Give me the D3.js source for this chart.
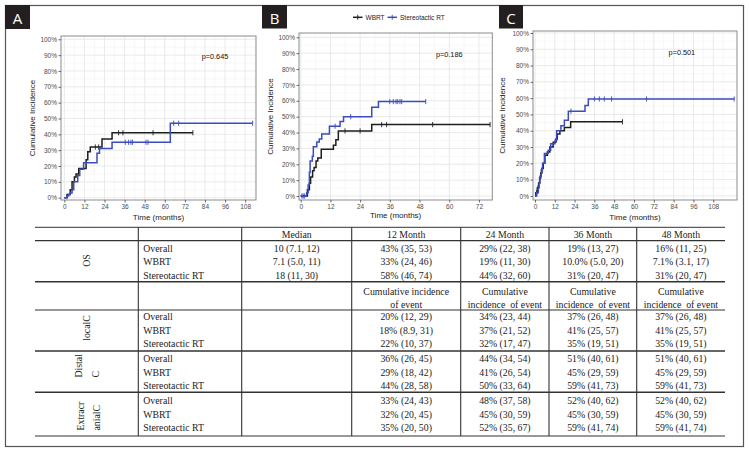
<!DOCTYPE html>
<html><head><meta charset="utf-8">
<script src="https://cdn.jsdelivr.net/npm/d3@7"></script>
<style>
html,body{margin:0;padding:0;background:#fff;}
svg{display:block;}
</style></head><body>
<svg id="chart" width="749" height="453"></svg>
<script>
// ---------------- DATA ----------------
const panelLabels = ["A", "B", "C"];
const pValues = ["p=0.645", "p=0.186", "p=0.501"];
const seriesNames = ["WBRT", "Stereotactic RT"];
const xTicksLong = [0, 12, 24, 36, 48, 60, 72, 84, 96, 108];
const xTicksShort = [0, 12, 24, 36, 48, 60, 72];
const yTicks = [0, 0.1, 0.2, 0.3, 0.4, 0.5, 0.6, 0.7, 0.8, 0.9, 1.0];

// Panel A (months, cumulative incidence)
const wbrtA = [[0,0],[1.6,0.02],[3.5,0.05],[4.6,0.10],[6,0.13],[7,0.15],[8.6,0.185],[13,0.24],[14,0.29],[15.5,0.32],[22.5,0.37],[28.5,0.41]];
const wbrtAEnd = 76.8;
const wbrtACensor = [18.5, 20.5, 32.4, 35, 53, 76.8];
const srtA = [[0,0],[1.5,0.01],[2.5,0.02],[3.5,0.03],[4.6,0.05],[5.6,0.10],[8,0.14],[9.2,0.18],[11.5,0.22],[19.5,0.28],[21,0.31],[28.5,0.35],[63.3,0.47]];
const srtAEnd = 112.5;
const srtACensor = [36.4, 38.4, 39.8, 40.8, 48.8, 50, 65.3, 68.3, 112.5];

// Panel B
const wbrtB = [[0,0],[2.7,0.04],[3.5,0.08],[4,0.12],[4.8,0.16],[5.4,0.18],[6.2,0.22],[6.9,0.24],[8.3,0.295],[13.2,0.32],[14.2,0.355],[15.2,0.41],[28.7,0.45]];
const wbrtBEnd = 76.5;
const wbrtBCensor = [17.9, 24, 32.7, 34.7, 53.3, 76.5];
const srtB = [[0,0],[2.4,0.02],[3,0.07],[3.5,0.15],[3.8,0.22],[4.7,0.25],[5.1,0.31],[6.5,0.34],[7.5,0.36],[8.5,0.39],[11.6,0.44],[15.9,0.47],[17.3,0.50],[28.7,0.56],[31.4,0.595]];
const srtBEnd = 50.5;
const srtBCensor = [0.5, 1, 1.5, 13.9, 20.2, 36, 37.4, 38.5, 39.2, 40.1, 40.8, 50.5];

// Panel C
const wbrtC = [[0,0],[0.5,0.02],[1.4,0.05],[2.2,0.08],[2.8,0.11],[3.5,0.14],[4.2,0.17],[5,0.20],[6,0.25],[7.5,0.27],[9,0.30],[11,0.33],[12.7,0.35],[13.5,0.38],[15.1,0.40],[17.8,0.42],[21.6,0.455]];
const wbrtCEnd = 53;
const wbrtCCensor = [1, 1.8, 53];
const srtC = [[0,0],[1,0.02],[2,0.05],[2.5,0.08],[3,0.12],[3.8,0.16],[4.6,0.20],[5.7,0.26],[8,0.28],[9.5,0.32],[12.1,0.34],[13.1,0.40],[15.7,0.43],[17.8,0.465],[20.2,0.52],[30.3,0.555],[32.3,0.595]];
const srtCEnd = 120.7;
const srtCCensor = [21.8, 36, 39, 42, 46.4, 67.6, 120.7];

// Table
const tableHeader = ["Median", "12 Month", "24 Month", "36 Month", "48 Month"];
const ciHeader = [["", ""], ["Cumulative incidence", "of event"], ["Cumulative", "incidence  of event"], ["Cumulative", "incidence  of event"], ["Cumulative", "incidence  of event"]];
const groupLabels = [["OS"], ["localC"], ["Distal", "C"], ["Extracr", "anialC"]];
const rowLabels = ["Overall", "WBRT", "Stereotactic RT"];
const osValues = [
  ["10 (7.1, 12)", "43% (35, 53)", "29% (22, 38)", "19% (13, 27)", "16% (11, 25)"],
  ["7.1 (5.0, 11)", "33% (24, 46)", "19% (11, 30)", "10.0% (5.0, 20)", "7.1% (3.1, 17)"],
  ["18 (11, 30)", "58% (46, 74)", "44% (32, 60)", "31% (20, 47)", "31% (20, 47)"]];
const localCValues = [
  ["", "20% (12, 29)", "34% (23, 44)", "37% (26, 48)", "37% (26, 48)"],
  ["", "18% (8.9, 31)", "37% (21, 52)", "41% (25, 57)", "41% (25, 57)"],
  ["", "22% (10, 37)", "32% (17, 47)", "35% (19, 51)", "35% (19, 51)"]];
const distalCValues = [
  ["", "36% (26, 45)", "44% (34, 54)", "51% (40, 61)", "51% (40, 61)"],
  ["", "29% (18, 42)", "41% (26, 54)", "45% (29, 59)", "45% (29, 59)"],
  ["", "44% (28, 58)", "50% (33, 64)", "59% (41, 73)", "59% (41, 73)"]];
const extraCValues = [
  ["", "33% (24, 43)", "48% (37, 58)", "52% (40, 62)", "52% (40, 62)"],
  ["", "32% (20, 45)", "45% (30, 59)", "45% (30, 59)", "45% (30, 59)"],
  ["", "35% (20, 50)", "52% (35, 67)", "59% (41, 74)", "59% (41, 74)"]];

// ---------------- DRAW ----------------
const BLACK = "#1e1e1e", BLUE = "#3b4cc0";
const SANS = "'Liberation Sans', Arial, sans-serif";
const SERIF = "'Liberation Serif', 'Times New Roman', serif";
const svg = d3.select("#chart");

svg.append("rect").attr("x", 5.5).attr("y", 5.5).attr("width", 738).attr("height", 441)
  .attr("fill", "none").attr("stroke", "#555").attr("stroke-width", 1.2);

const panels = [
  {label: panelLabels[0], p: pValues[0], pPos: [90, 0.89], box: [5, 5, 25, 24],
   left: 61, right: 256, top: 36, bottom: 200, xDom: [-2.0, 114.5], yDom: [-0.0145, 1.0208],
   xTicks: xTicksLong, yTitleX: 32, xTitleY: 217,
   series: [{steps: wbrtA, end: wbrtAEnd, censor: wbrtACensor, color: BLACK},
            {steps: srtA, end: srtAEnd, censor: srtACensor, color: BLUE}]},
  {label: panelLabels[1], p: pValues[1], pPos: [60, 0.89], box: [262, 5, 25, 23.5],
   left: 299, right: 492.3, top: 33, bottom: 200, xDom: [-0.69, 77.4], yDom: [-0.025, 1.027],
   xTicks: xTicksShort, yTitleX: 270, xTitleY: 215,
   series: [{steps: wbrtB, end: wbrtBEnd, censor: wbrtBCensor, color: BLACK},
            {steps: srtB, end: srtBEnd, censor: srtBCensor, color: BLUE}]},
  {label: panelLabels[2], p: pValues[2], pPos: [89, 0.88], box: [499, 5, 24, 23.5],
   left: 533, right: 737, top: 31, bottom: 200, xDom: [-1.21, 122.4], yDom: [-0.025, 1.012],
   xTicks: xTicksLong, yTitleX: 502, xTitleY: 217,
   series: [{steps: wbrtC, end: wbrtCEnd, censor: wbrtCCensor, color: BLACK},
            {steps: srtC, end: srtCEnd, censor: srtCCensor, color: BLUE}]}
];

function stepValue(steps, t) {
  let v = steps[0][1];
  for (const s of steps) { if (s[0] <= t) v = s[1]; }
  return v;
}

panels.forEach(P => {
  const g = svg.append("g");
  const x = d3.scaleLinear().domain(P.xDom).range([P.left, P.right]);
  const y = d3.scaleLinear().domain(P.yDom).range([P.bottom, P.top]);

  // label box
  g.append("rect").attr("x", P.box[0]).attr("y", P.box[1]).attr("width", P.box[2]).attr("height", P.box[3]).attr("fill", "#231f20");
  g.append("text").attr("x", P.box[0] + P.box[2] / 2).attr("y", P.box[1] + P.box[3] / 2 + 1)
    .attr("text-anchor", "middle").attr("dominant-baseline", "central")
    .attr("fill", "#fff").attr("font-family", "'Open Sans', sans-serif").attr("font-size", 15).text(P.label);

  // grid
  const xMinor = d3.range(6, P.xDom[1], 12);
  const yMinor = d3.range(0.05, 1.0, 0.1);
  const grid = g.append("g");
  grid.selectAll(".xm").data(xMinor).join("line")
    .attr("x1", d => x(d)).attr("x2", d => x(d)).attr("y1", P.top).attr("y2", P.bottom)
    .attr("stroke", "#f2f2f2").attr("stroke-width", 0.6);
  grid.selectAll(".ym").data(yMinor).join("line")
    .attr("x1", P.left).attr("x2", P.right).attr("y1", d => y(d)).attr("y2", d => y(d))
    .attr("stroke", "#f2f2f2").attr("stroke-width", 0.6);
  grid.selectAll(".xM").data(P.xTicks).join("line")
    .attr("x1", d => x(d)).attr("x2", d => x(d)).attr("y1", P.top).attr("y2", P.bottom)
    .attr("stroke", "#e4e4e4").attr("stroke-width", 0.8);
  grid.selectAll(".yM").data(yTicks).join("line")
    .attr("x1", P.left).attr("x2", P.right).attr("y1", d => y(d)).attr("y2", d => y(d))
    .attr("stroke", "#e4e4e4").attr("stroke-width", 0.8);

  // curves
  const line = d3.line().x(d => x(d[0])).y(d => y(d[1])).curve(d3.curveStepAfter);
  P.series.forEach(s => {
    const pts = s.steps.concat([[s.end, s.steps[s.steps.length - 1][1]]]);
    g.append("path").datum(pts).attr("d", line).attr("fill", "none")
      .attr("stroke", s.color).attr("stroke-width", 1.5);
    g.selectAll(null).data(s.censor).join("line")
      .attr("x1", d => x(d)).attr("x2", d => x(d))
      .attr("y1", d => y(stepValue(s.steps, d)) - 2.6).attr("y2", d => y(stepValue(s.steps, d)) + 2.6)
      .attr("stroke", s.color).attr("stroke-width", 0.9);
  });

  // panel border
  g.append("rect").attr("x", P.left).attr("y", P.top).attr("width", P.right - P.left).attr("height", P.bottom - P.top)
    .attr("fill", "none").attr("stroke", "#8c8c8c").attr("stroke-width", 1);

  // axes
  const ya = g.append("g").attr("transform", `translate(${P.left},0)`)
    .call(d3.axisLeft(y).tickValues(yTicks).tickFormat(d3.format(".0%")).tickSize(2.5).tickPadding(1.5));
  const xa = g.append("g").attr("transform", `translate(0,${P.bottom})`)
    .call(d3.axisBottom(x).tickValues(P.xTicks).tickSize(2.5).tickPadding(1.5));
  [ya, xa].forEach(a => {
    a.select(".domain").remove();
    a.selectAll(".tick line").attr("stroke", "#444").attr("stroke-width", 0.8);
    a.selectAll(".tick text").attr("fill", "#4d4d4d").attr("font-family", SANS).attr("font-size", 6.5);
  });

  // titles
  g.append("text").attr("x", (P.left + P.right) / 2).attr("y", P.xTitleY)
    .attr("text-anchor", "middle").attr("dominant-baseline", "central")
    .attr("font-family", SANS).attr("font-size", 8).attr("fill", "#222").text("Time (months)");
  g.append("text").attr("transform", `translate(${P.yTitleX},${(P.top + P.bottom) / 2}) rotate(-90)`)
    .attr("text-anchor", "middle").attr("dominant-baseline", "central")
    .attr("font-family", SANS).attr("font-size", 8).attr("fill", "#222").text("Cumulative Incidence");

  // p-value
  g.append("text").attr("x", x(P.pPos[0])).attr("y", y(P.pPos[1]))
    .attr("text-anchor", "middle").attr("dominant-baseline", "central")
    .attr("font-family", SANS).attr("font-size", 7.3).attr("fill", "#111").text(P.p);
});

// legend (above panel B)
const legend = svg.append("g").attr("font-family", SANS).attr("font-size", 6.5).attr("fill", "#222");
const legendItems = [{name: seriesNames[0], color: BLACK, x0: 353}, {name: seriesNames[1], color: BLUE, x0: 387.5}];
legendItems.forEach(it => {
  legend.append("line").attr("x1", it.x0).attr("x2", it.x0 + 9.5).attr("y1", 17.3).attr("y2", 17.3)
    .attr("stroke", it.color).attr("stroke-width", 1.5);
  legend.append("line").attr("x1", it.x0 + 4.75).attr("x2", it.x0 + 4.75).attr("y1", 14.8).attr("y2", 19.8)
    .attr("stroke", it.color).attr("stroke-width", 0.9);
  legend.append("text").attr("x", it.x0 + 12.5).attr("y", 17.5).attr("dominant-baseline", "central").text(it.name);
});

// ---------------- TABLE ----------------
const T = svg.append("g").attr("font-family", SERIF).attr("font-size", 9.8).attr("fill", "#222");
const hLines = [227.3, 240.7, 281.7, 310, 351, 392.3, 436];
const hWidths = [1, 1.2, 1.5, 1.2, 1.3, 1.5, 1];
const vLines = [138.3, 241.7, 351.7, 460.7, 549, 636.7];
const colCenters = [296.7, 406.2, 504.9, 592.9, 680.9];
const labelX = 143.3;

hLines.forEach((yy, i) => T.append("line").attr("x1", 35).attr("x2", 725).attr("y1", yy).attr("y2", yy)
  .attr("stroke", "#333").attr("stroke-width", hWidths[i]));
vLines.forEach(xx => T.append("line").attr("x1", xx).attr("x2", xx).attr("y1", hLines[0]).attr("y2", hLines[hLines.length - 1])
  .attr("stroke", "#333").attr("stroke-width", 1.1));

function cellText(x, y, txt, anchor) {
  T.append("text").attr("x", x).attr("y", y).attr("text-anchor", anchor || "middle")
    .attr("dominant-baseline", "central").style("white-space", "pre").text(txt);
}

tableHeader.forEach((h, i) => cellText(colCenters[i], 234.2, h));
ciHeader.forEach((lines, i) => { cellText(colCenters[i], 291.2, lines[0]); cellText(colCenters[i], 304.4, lines[1]); });

const blocks = [
  {vals: osValues, ys: [248.3, 261.7, 275.0]},
  {vals: localCValues, ys: [316.7, 330.0, 343.7]},
  {vals: distalCValues, ys: [358.3, 372.3, 385.7]},
  {vals: extraCValues, ys: [400.0, 414.0, 427.7]}
];
blocks.forEach(b => {
  b.vals.forEach((row, r) => {
    cellText(labelX, b.ys[r], rowLabels[r], "start");
    row.forEach((v, c) => { if (v) cellText(colCenters[c], b.ys[r], v); });
  });
});

// group labels (rotated)
const groupPos = [
  {anchor: "middle", xs: [86.5], y: 260.5},
  {anchor: "middle", xs: [86], y: 328},
  {anchor: "start", xs: [78.3, 95], y: 377.5},
  {anchor: "start", xs: [80, 96.7], y: 430.5}
];
groupLabels.forEach((lines, i) => {
  lines.forEach((ln, j) => {
    T.append("text").attr("transform", `translate(${groupPos[i].xs[j]},${groupPos[i].y}) rotate(-90)`)
      .attr("text-anchor", groupPos[i].anchor).attr("dominant-baseline", "central").text(ln);
  });
});
</script></body></html>
